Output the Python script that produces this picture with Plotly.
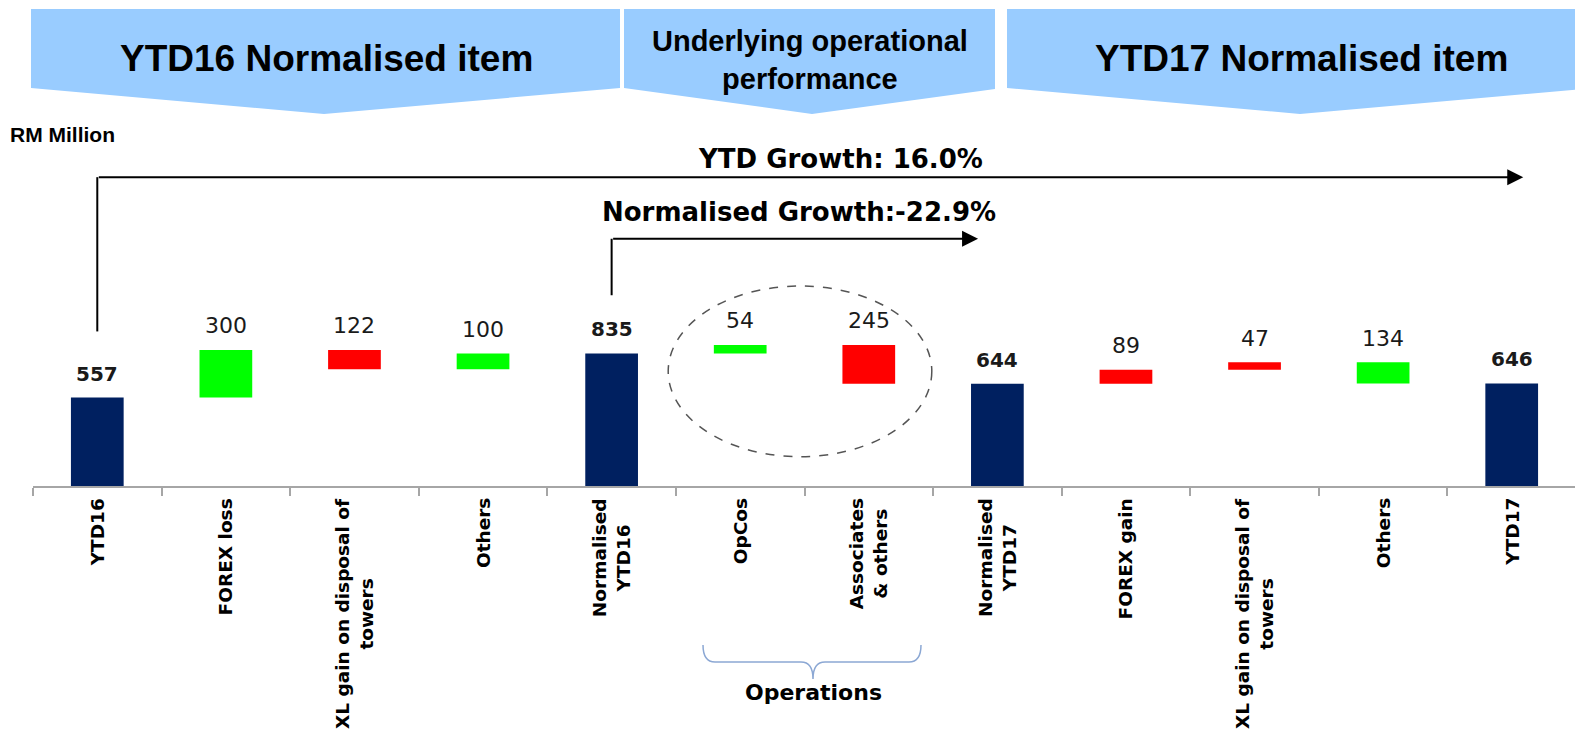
import plotly.graph_objects as go
import numpy as np

# ---- data (RM Million) ----
categories = ["YTD16", "FOREX loss", "XL gain on disposal of<br>towers", "Others",
              "Normalised<br>YTD16", "OpCos", "Associates<br>& others", "Normalised<br>YTD17",
              "FOREX gain", "XL gain on disposal of<br>towers", "Others", "YTD17"]
values = [557, 300, 122, 100, 835, 54, 245, 644, 89, 47, 134, 646]
# 0 = total bar from zero, +1 = step drawn upward, -1 = step drawn downward
direction = [0, 1, -1, 1, 0, 1, -1, 0, 1, 1, -1, 0]
kind = ["total", "add", "less", "add", "total", "add", "less", "total", "less", "less", "add", "total"]
sections = ["YTD16 Normalised item", "Underlying operational<br>performance", "YTD17 Normalised item"]
ytd_growth = "YTD Growth: 16.0%"
norm_growth = "Normalised Growth:-22.9%"
unit_label = "RM Million"
group_label = "Operations"

colors = {"total": "#002060", "add": "#00FF00", "less": "#FF0000"}

# running waterfall levels
bases = []
level = 0
for v, d in zip(values, direction):
    if d == 0:
        bases.append(0)
        level = v
    elif d > 0:
        bases.append(level)
        level += v
    else:
        level -= v
        bases.append(level)
x = list(range(len(categories)))

# page has an 8px body margin, so the figure is 8px smaller than the window
OFF = 8
W, H = 1575, 728
L, R, T, B = 25, 7, 112, 250
plot_w, plot_h = W - L - R, H - T - B
ymax = plot_h / 0.1587


def px(xp, yp):
    # page pixel -> paper coordinates (for the decorations round the chart)
    return (xp - OFF - L) / plot_w, (H - B - (yp - OFF)) / plot_h


def path(points):
    parts = []
    for cmd, pts in points:
        parts.append(cmd + " " + " ".join("%.5f,%.5f" % px(a, b) for a, b in pts))
    return " ".join(parts)


fig = go.Figure(go.Bar(
    x=x, y=values, base=bases, width=0.41,
    marker=dict(color=[colors[k] for k in kind], line=dict(width=0)),
    hoverinfo="skip",
))

shapes = []
annotations = []

# header banners
banner_pts = [
    [(31, 9), (620, 9), (620, 88), (324, 114), (31, 88)],
    [(624, 9), (995, 9), (995, 89), (812, 114), (624, 88)],
    [(1007, 9), (1583, 9), (1583, 89), (1300, 114), (1007, 88)],
]
for pts in banner_pts:
    segs = [("M", [pts[0]])] + [("L", [p]) for p in pts[1:]]
    shapes.append(dict(type="path", xref="paper", yref="paper",
                       path=path(segs) + " Z",
                       fillcolor="#99CCFF", line=dict(width=0), layer="below"))

banner_txt = [(326, 59, 37), (810, 60, 29), (1301, 59, 37)]
for (bx, by, fs), t in zip(banner_txt, sections):
    ax_, ay_ = px(bx, by)
    annotations.append(dict(xref="paper", yref="paper", x=ax_, y=ay_, text=t, showarrow=False,
                            font=dict(family="Liberation Sans, Arial", size=fs, color="black", weight="bold"),
                            xanchor="center", yanchor="middle"))

ux, uy = px(8, 134)
annotations.append(dict(xref="paper", yref="paper", x=ux, y=uy, text=unit_label, showarrow=False,
                        xanchor="left", yanchor="middle",
                        font=dict(family="Liberation Sans, Arial", size=21, color="black", weight="bold")))

# value labels
for i, (v, b) in enumerate(zip(values, bases)):
    tot = kind[i] == "total"
    annotations.append(dict(x=i, y=b + v, text=str(v), showarrow=False, yshift=24,
                            xanchor="center", yanchor="middle",
                            font=dict(family="DejaVu Sans", size=20 if tot else 22,
                                      color="#1a1a1a", weight="bold" if tot else "normal")))

# category labels
for i, c in enumerate(categories):
    annotations.append(dict(x=i, y=0, text=c, showarrow=False, textangle=-90,
                            xanchor="center", yanchor="top", yshift=-10, align="center",
                            font=dict(family="DejaVu Sans", size=18.5, color="black", weight="bold")))

# growth arrows
shapes.append(dict(type="line", xref="x", yref="y", x0=0, x1=0, y0=974, y1=1946,
                   line=dict(color="black", width=2)))
annotations.append(dict(x=11.09, y=1946, ax=0, ay=1946, xref="x", yref="y", axref="x", ayref="y",
                        text="", showarrow=True, arrowhead=2, arrowsize=1.6, arrowwidth=2,
                        arrowcolor="black", standoff=0, startstandoff=0))
annotations.append(dict(x=5.78, y=2061, text=ytd_growth, showarrow=False,
                        font=dict(family="DejaVu Sans", size=26, color="black", weight="bold")))

shapes.append(dict(type="line", xref="x", yref="y", x0=4, x1=4, y0=1202, y1=1558,
                   line=dict(color="black", width=2)))
annotations.append(dict(x=6.85, y=1558, ax=4, ay=1558, xref="x", yref="y", axref="x", ayref="y",
                        text="", showarrow=True, arrowhead=2, arrowsize=1.6, arrowwidth=2,
                        arrowcolor="black", standoff=0, startstandoff=0))
annotations.append(dict(x=5.46, y=1724, text=norm_growth, showarrow=False,
                        font=dict(family="DejaVu Sans", size=26, color="black", weight="bold")))

# dashed circle round the operations bars
shapes.append(dict(type="circle", xref="x", yref="y", x0=4.44, x1=6.49, y0=185, y1=1260,
                   line=dict(color="#555555", width=1.5, dash="dash")))

# brace under OpCos / Associates
brace = path([
    ("M", [(703, 645)]),
    ("Q", [(703, 662), (715, 662)]),
    ("L", [(801, 662)]),
    ("Q", [(813, 662), (813, 679)]),
    ("Q", [(813, 662), (825, 662)]),
    ("L", [(909, 662)]),
    ("Q", [(921, 662), (921, 645)]),
])
shapes.append(dict(type="path", xref="paper", yref="paper", path=brace,
                   line=dict(color="#8CA8D4", width=1.5)))
ox, oy = px(813, 707)
annotations.append(dict(xref="paper", yref="paper", x=ox, y=oy, text=group_label, showarrow=False,
                        font=dict(family="DejaVu Sans", size=22, color="black", weight="bold")))

fig.update_layout(
    width=W, height=H, autosize=False,
    margin=dict(l=L, r=R, t=T, b=B, pad=0),
    paper_bgcolor="white", plot_bgcolor="white",
    showlegend=False,
    xaxis=dict(range=[-0.5, 11.5], tickvals=np.arange(-0.5, 12, 1), ticks="outside", ticklen=8,
               tickcolor="#A6A6A6", tickwidth=1.5, showline=True, linecolor="#A6A6A6", linewidth=2,
               showticklabels=False, showgrid=False, zeroline=False, fixedrange=True),
    yaxis=dict(range=[0, ymax], visible=False, fixedrange=True),
    shapes=shapes,
    annotations=annotations,
)

fig.write_html("out.html", config=dict(displayModeBar=False))
